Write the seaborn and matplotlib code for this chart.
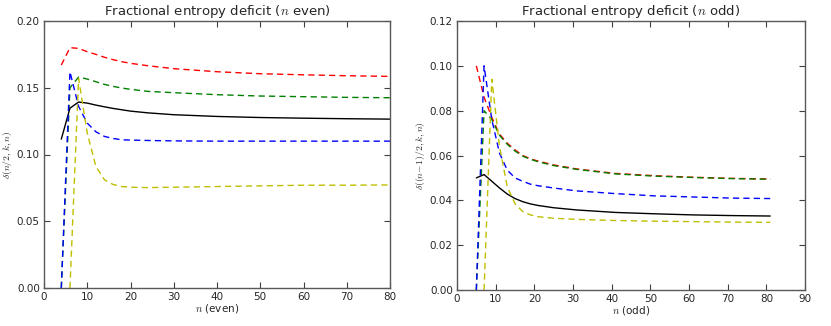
import numpy as np
import pandas as pd
import seaborn as sns
import matplotlib.pyplot as plt

# n even panel
n_even = [4, 6, 8, 10, 12, 14, 16, 18, 20, 24, 30, 40, 50, 60, 70, 80]
red_even = [0.167, 0.180, 0.1795, 0.177, 0.175, 0.1728, 0.171, 0.1695, 0.1683, 0.1665,
            0.1643, 0.162, 0.1605, 0.1597, 0.159, 0.1585]
green_even = [0.0, 0.150, 0.158, 0.1565, 0.1545, 0.1525, 0.151, 0.1498, 0.1488, 0.1473,
              0.1463, 0.1448, 0.1438, 0.1433, 0.1428, 0.1425]
black_even = [0.1115, 0.1347, 0.1393, 0.1385, 0.137, 0.1357, 0.1345, 0.1335, 0.1325, 0.1312,
              0.1298, 0.1285, 0.1277, 0.1272, 0.1268, 0.1265]
blue_even = [0.0, 0.162, 0.136, 0.1235, 0.117, 0.1135, 0.112, 0.111, 0.1108, 0.1105,
             0.1102, 0.110, 0.110, 0.110, 0.110, 0.110]
yellow_even = [np.nan, 0.0, 0.157, 0.116, 0.091, 0.081, 0.0775, 0.076, 0.0755, 0.0752,
               0.0755, 0.076, 0.0765, 0.077, 0.077, 0.0772]

# n odd panel
n_odd = [5, 7, 9, 11, 13, 15, 17, 19, 21, 25, 31, 41, 51, 61, 71, 81]
red_odd = [0.100, 0.086, 0.077, 0.0695, 0.0655, 0.0625, 0.060, 0.0585, 0.0575, 0.0558,
           0.054, 0.052, 0.051, 0.0503, 0.0498, 0.0495]
green_odd = [0.0, 0.080, 0.076, 0.069, 0.065, 0.062, 0.0597, 0.0583, 0.0572, 0.0555,
             0.0538, 0.0518, 0.0508, 0.0502, 0.0497, 0.0494]
black_odd = [0.050, 0.0515, 0.0485, 0.0455, 0.0428, 0.0408, 0.0394, 0.0384, 0.0377, 0.0367,
             0.0357, 0.0346, 0.034, 0.0335, 0.0332, 0.0330]
blue_odd = [0.0, 0.100, 0.076, 0.061, 0.0535, 0.050, 0.0485, 0.0472, 0.0465, 0.0455,
            0.0442, 0.043, 0.042, 0.0415, 0.041, 0.0408]
yellow_odd = [np.nan, 0.0, 0.094, 0.064, 0.046, 0.0385, 0.035, 0.0335, 0.0327, 0.032,
              0.0315, 0.031, 0.0307, 0.0305, 0.0303, 0.0302]

series_names = ['r', 'g', 'k', 'b', 'y']
palette = {'r': (1, 0, 0), 'g': (0, 0.5, 0), 'k': (0, 0, 0), 'b': (0, 0, 1), 'y': (0.75, 0.75, 0)}
dashes = {'r': (4.5, 3), 'g': (4.5, 3), 'k': '', 'b': (4.5, 3), 'y': (4.5, 3)}


def to_long(n, cols):
    rows = []
    for name, vals in zip(series_names, cols):
        for x, v in zip(n, vals):
            if not np.isnan(v):
                rows.append([name, x, v])
    return pd.DataFrame(rows, columns=['series', 'n', 'delta'])


df_even = to_long(n_even, [red_even, green_even, black_even, blue_even, yellow_even])
df_odd = to_long(n_odd, [red_odd, green_odd, black_odd, blue_odd, yellow_odd])

sns.set_style('ticks')
plt.rcParams['font.family'] = ['DejaVu Sans']
plt.rcParams['mathtext.fontset'] = 'cm'

fig = plt.figure(figsize=(8.31, 3.26), dpi=100)
ax1 = fig.add_axes([44 / 831, 38 / 326, 346 / 831, 267 / 326])
ax2 = fig.add_axes([457 / 831, 36 / 326, 348 / 831, 269 / 326])

panels = [
    (ax1, df_even, (0, 80), (0, 0.20), np.arange(0, 81, 10), np.arange(0, 0.201, 0.05), '%.2f',
     r'Fractional entropy deficit ($n$ even)', r'$n$ (even)', r'$\delta(n/2,k,n)$'),
    (ax2, df_odd, (0, 90), (0, 0.12), np.arange(0, 91, 10), np.arange(0, 0.121, 0.02), '%.2f',
     r'Fractional entropy deficit ($n$ odd)', r'$n$ (odd)', r'$\delta((n\!-\!1)/2,k,n)$'),
]

for ax, df, xl, yl, xt, yt, fmt, title, xlab, ylab in panels:
    sns.lineplot(data=df, x='n', y='delta', hue='series', style='series',
                 hue_order=series_names, style_order=series_names,
                 palette=palette, dashes=dashes, estimator=None, linewidth=1.0,
                 legend=False, ax=ax)
    ax.set_xlim(*xl)
    ax.set_ylim(*yl)
    ax.set_xticks(xt)
    ax.set_yticks(yt)
    ax.set_yticklabels([fmt % v for v in yt])
    ax.tick_params(direction='in', top=True, right=True, length=4, width=0.8,
                   labelsize=7.5, color='0.25', pad=3)
    for sp in ax.spines.values():
        sp.set_visible(True)
        sp.set_color('0.35')
        sp.set_linewidth(1.0)
    ax.set_title(title, fontsize=9.5, pad=4)
    ax.set_xlabel(xlab, fontsize=7.5, labelpad=0)
    ax.set_ylabel(ylab, fontsize=7)
    ax.yaxis.set_label_coords(-0.087, 0.5)

fig.savefig('out.png', dpi=100)
